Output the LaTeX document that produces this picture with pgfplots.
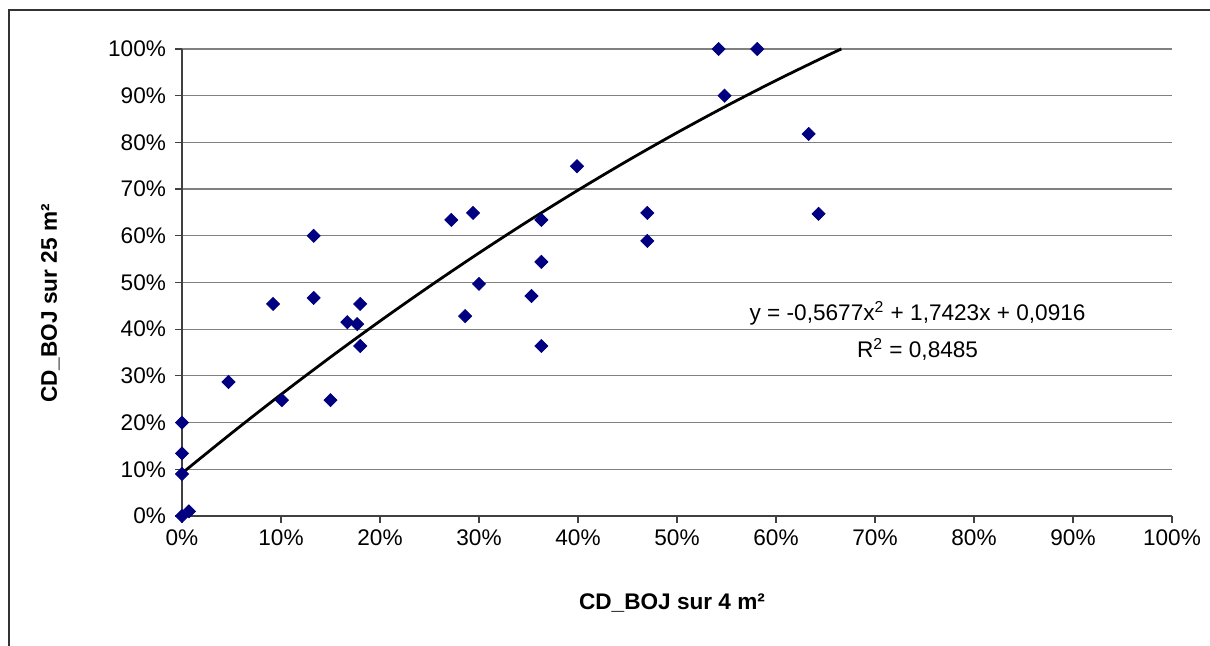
\documentclass[border=0pt]{standalone}
\usepackage{fontspec}
\setmainfont{Liberation Sans}
\usepackage{pgfplots}
\pgfplotsset{compat=1.18}
\definecolor{ptnavy}{RGB}{0,0,128}
\definecolor{gridgray}{RGB}{128,128,128}

\begin{document}
\begin{tikzpicture}
  % bounding box: 1210x646 px at 0.5pt per px
  \path[use as bounding box] (0,0) rectangle (605pt,323pt);
  \draw[black!80, line width=0.6pt] (4.5pt,0) -- (4.5pt,318pt) -- (605pt,318pt);
  \begin{axis}[
    at={(91pt,65pt)}, anchor=south west,
    scale only axis, width=495pt, height=233.5pt,
    xmin=0, xmax=100, ymin=0, ymax=100,
    axis lines=left, axis line style={-, black!75, line width=0.6pt},
    xtick={0,10,...,100}, ytick={0,10,...,100},
    xticklabels={0\%,10\%,20\%,30\%,40\%,50\%,60\%,70\%,80\%,90\%,100\%},
    yticklabels={0\%,10\%,20\%,30\%,40\%,50\%,60\%,70\%,80\%,90\%,100\%},
    tick align=outside, major tick length=3.5pt,
    tick style={black!75, line width=0.6pt},
    ymajorgrids, major grid style={gridgray, line width=0.6pt},
    font=\fontsize{11.3}{13}\selectfont,
    yticklabel style={xshift=-1pt},
    every axis x label/.style={at={(axis description cs:0.495,-0.186)}, anchor=center},
    every axis y label/.style={at={(axis description cs:-0.133,0.455)}, rotate=90, anchor=center},
    xlabel={\bfseries CD\_BOJ sur 4 m²},
    ylabel={\bfseries CD\_BOJ sur 25 m²},
    clip=false,
  ]
    \addplot[only marks, mark=square*, mark size=2.3pt, ptnavy,
      mark options={rotate=45, fill=ptnavy, draw=ptnavy}]
      coordinates {
        (0,20) (0,13.4) (0,9) (0,0) (0.7,1)
        (4.7,28.7) (9.2,45.4) (10.1,24.8) (13.3,60) (13.3,46.7)
        (15,24.8) (16.7,41.5) (17.7,41.1) (18,45.4) (18,36.4)
        (27.2,63.4) (28.6,42.8) (29.4,64.9) (30,49.7) (35.3,47.1)
        (36.3,63.4) (36.3,54.4) (36.3,36.4) (39.9,74.9) (47,64.9)
        (47,58.9) (54.2,100) (54.8,90) (58.1,100) (63.3,81.8) (64.3,64.7)
      };
    % polynomial trendline, sampled values
    \addplot[black, line width=1.4pt, smooth]
      coordinates {
        (0,9.16) (5,17.73) (10,26.02) (15,34.02) (20,41.74) (25,49.17)
        (30,56.32) (35,63.19) (40,69.77) (45,76.07) (50,82.08)
        (55,87.81) (60,93.26) (65,98.42) (66.6,100)
      };
    \node[align=center, font=\fontsize{11.3}{18.5}\selectfont, inner sep=0pt]
      at (axis cs:74.3,39.6) {y = -0,5677x\textsuperscript{2} + 1,7423x + 0,0916\\R\textsuperscript{2} = 0,8485};
  \end{axis}
\end{tikzpicture}
\end{document}
